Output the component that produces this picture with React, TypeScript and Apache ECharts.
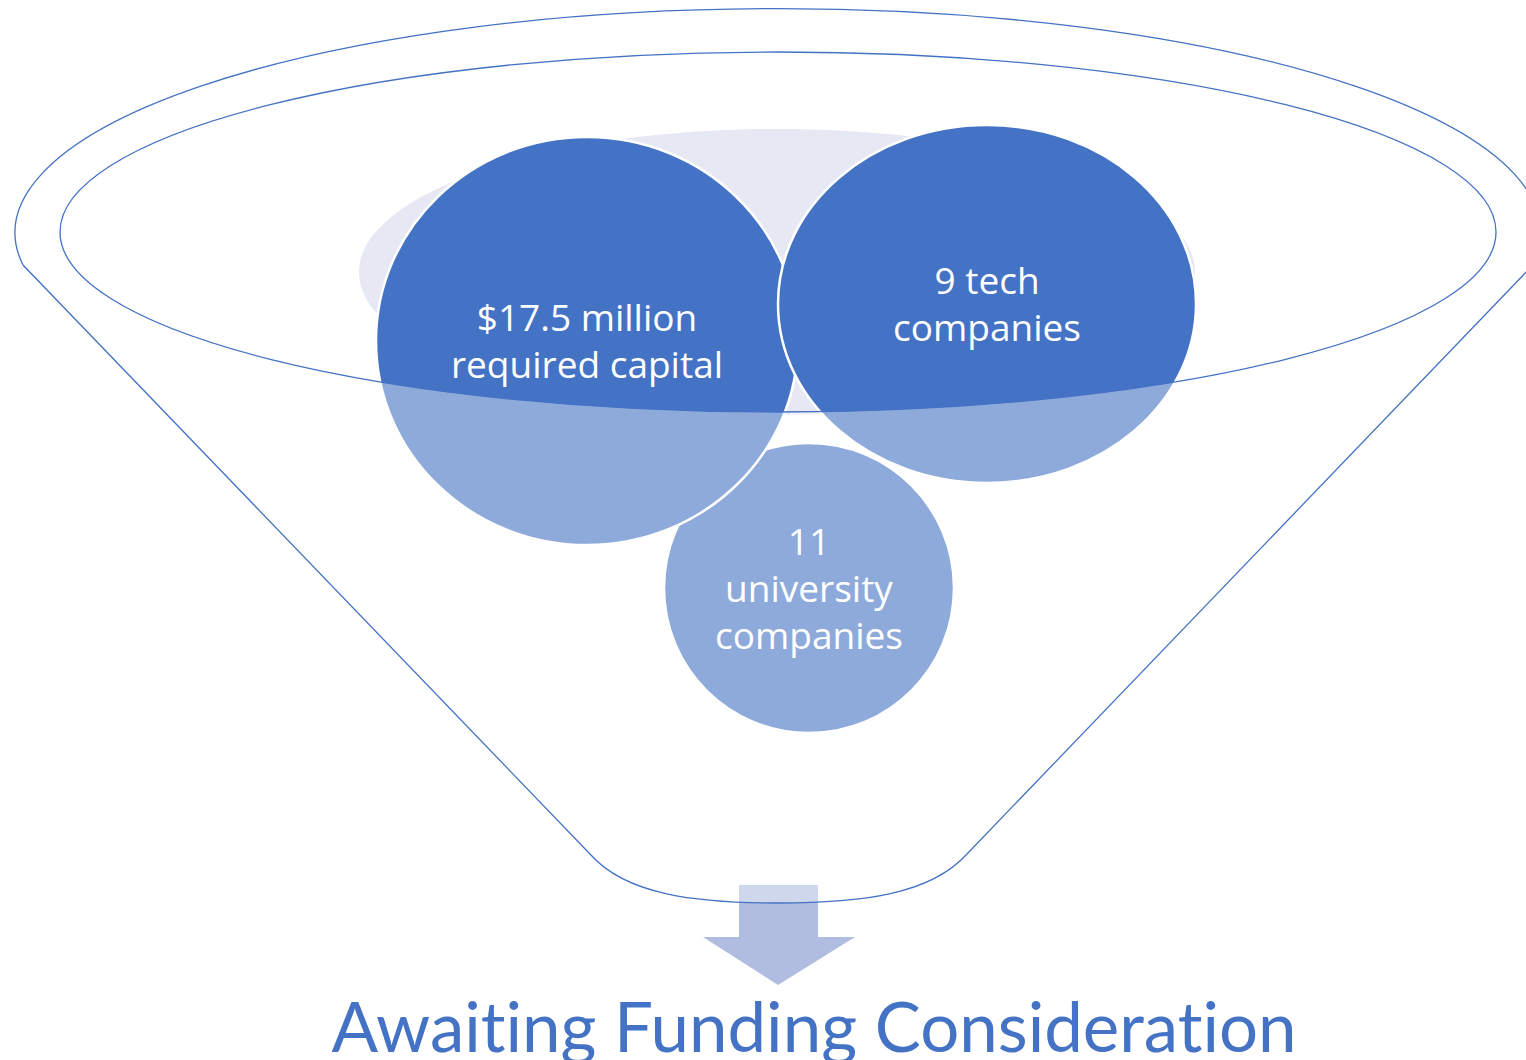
import React, { useEffect, useRef } from "react";
import * as echarts from "echarts";

const circleLabels = ["$17.5 million\nrequired capital", "9 tech\ncompanies", "11\nuniversity\ncompanies"];
const titleText = "Awaiting Funding Consideration";

// layout (positions / sizes)
const BLUE = "#4472C4";
const circles = [
  { cx: 809, cy: 588, rx: 145, ry: 145, ty: 587, label: 2 },
  { cx: 587, cy: 341, rx: 211, ry: 204, ty: 340, label: 0 },
  { cx: 987, cy: 304, rx: 209, ry: 179, ty: 303, label: 1 },
];

const funnelD =
  "M 23 265 A 763 224 0 1 1 1533 265 L 967 854 " +
  "C 930 895 860 903 778 903 C 696 903 626 895 590 854 Z " +
  "M 60 232 A 718 180 0 1 0 1496 232 A 718 180 0 1 0 60 232 Z";

const arrowD = "M 739 885 L 818 885 L 818 937 L 855 937 L 778 985 L 703 937 L 739 937 Z";

export default function App() {
  const ref = useRef<HTMLDivElement>(null);
  useEffect(() => {
    if (!ref.current) return;
    echarts.graphic.registerShape("funnel", echarts.graphic.extendPath(funnelD, {}) as any);
    echarts.graphic.registerShape("arrowDown", echarts.graphic.extendPath(arrowD, {}) as any);
    const chart = echarts.init(ref.current, null, { renderer: "svg" });
    const elements: any[] = [];
    elements.push({
      type: "ellipse",
      shape: { cx: 777, cy: 272, rx: 418, ry: 143 },
      style: { fill: "#E6E8F4" },
    });
    circles.forEach((c) => {
      elements.push({
        type: "ellipse",
        shape: { cx: c.cx, cy: c.cy, rx: c.rx, ry: c.ry },
        style: { fill: BLUE, stroke: "#ffffff", lineWidth: 2.5 },
      });
    });
    elements.push({
      type: "arrowDown",
      x: 0,
      y: 0,
      style: { fill: "#B0BDE0" },
    });
    elements.push({
      type: "funnel",
      x: 0,
      y: 0,
      style: { fill: "rgba(255,255,255,0.4)", stroke: BLUE, lineWidth: 1.3 },
    });
    circles.forEach((c) => {
      elements.push({
        type: "text",
        x: c.cx,
        y: c.ty,
        style: {
          text: circleLabels[c.label],
          fill: "#ffffff",
          fontFamily: "Open Sans",
          fontSize: 37,
          lineHeight: 47,
          align: "center",
          verticalAlign: "middle",
        },
      });
    });
    elements.push({
      type: "text",
      x: 814,
      y: 1025,
      style: {
        text: titleText,
        fill: BLUE,
        fontFamily: "Lato",
        fontSize: 69,
        align: "center",
        verticalAlign: "middle",
      },
    });
    chart.setOption({ animation: false, graphic: { elements } });
    return () => chart.dispose();
  }, []);
  return (
    <>
      <style>{`text { font-variant-ligatures: none !important; font-feature-settings: "liga" 0, "clig" 0, "dlig" 0 !important; }`}</style>
      <div
        ref={ref}
        style={{ position: "fixed", left: 0, top: 0, width: 1526, height: 1060, background: "#ffffff" }}
      />
    </>
  );
}
